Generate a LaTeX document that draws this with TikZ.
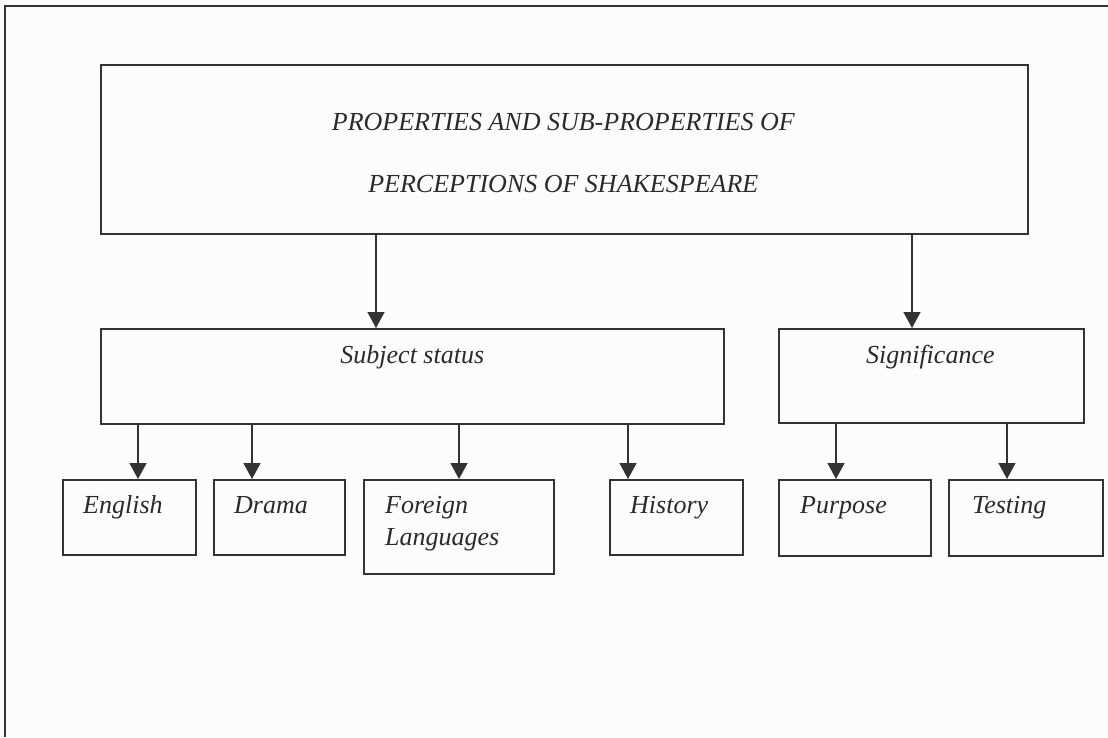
\documentclass[tikz,border=0pt]{standalone}
\usepackage{fontspec}
\setmainfont{Liberation Serif}
\usetikzlibrary{arrows.meta}
\definecolor{lc}{HTML}{333333}
\definecolor{tc}{HTML}{2A2A2A}
\definecolor{bg}{HTML}{FCFCFC}
\tikzset{
  box/.style={draw=lc, line width=1.6pt, rectangle, inner sep=0pt, anchor=north west},
  txt/.style={text=tc, inner sep=0pt, font=\fontsize{26}{31}\selectfont\itshape},
  arr/.style={draw=lc, line width=1.6pt, -{Triangle[width=17pt,length=16pt]}, shorten >=0pt},
  frame/.style={draw=lc, line width=1.6pt}
}
\begin{document}
\begin{tikzpicture}[x=1pt,y=-1pt]
\fill[bg] (0,0) rectangle (1108,737);
\useasboundingbox (0,0) rectangle (1108,737);
\draw[frame] (5,737) -- (5,6) -- (1108,6);

% boxes
\node[box, minimum width=927pt, minimum height=169pt] (top) at (100,64) {};
\node[box, minimum width=623pt, minimum height=95pt] (subj) at (100,328) {};
\node[box, minimum width=305pt, minimum height=94pt] (sig) at (778,328) {};
\node[box, minimum width=133pt, minimum height=75pt] (eng) at (62,479) {};
\node[box, minimum width=131pt, minimum height=75pt] (dra) at (213,479) {};
\node[box, minimum width=190pt, minimum height=94pt] (for) at (363,479) {};
\node[box, minimum width=133pt, minimum height=75pt] (his) at (609,479) {};
\node[box, minimum width=152pt, minimum height=76pt] (pur) at (778,479) {};
\node[box, minimum width=154pt, minimum height=76pt] (tes) at (948,479) {};

% texts
\node[txt, anchor=base] (t1) at ([xshift=-1pt,yshift=-66pt]top.north) {PROPERTIES AND SUB-PROPERTIES OF};
\node[txt, anchor=base] (t2) at ([xshift=-1pt,yshift=-128pt]top.north) {PERCEPTIONS OF SHAKESPEARE};
\node[txt, anchor=base] (ts) at ([yshift=-35pt]subj.north) {Subject status};
\node[txt, anchor=base] (tg) at ([xshift=-1pt,yshift=-35pt]sig.north) {Significance};
\node[txt, anchor=base west] (te) at ([xshift=21pt,yshift=-34pt]eng.north west) {English};
\node[txt, anchor=base west] (td) at ([xshift=21pt,yshift=-34pt]dra.north west) {Drama};
\node[txt, anchor=base west] (tf1) at ([xshift=22pt,yshift=-34pt]for.north west) {Foreign};
\node[txt, anchor=base west] (tf2) at ([xshift=22pt,yshift=-66pt]for.north west) {Languages};
\node[txt, anchor=base west] (th) at ([xshift=21pt,yshift=-34pt]his.north west) {History};
\node[txt, anchor=base west] (tp) at ([xshift=22pt,yshift=-34pt]pur.north west) {Purpose};
\node[txt, anchor=base west] (tt) at ([xshift=24pt,yshift=-34pt]tes.north west) {Testing};

% arrows
\draw[arr] ([xshift=276pt]top.south west) -- ([xshift=276pt]subj.north west);
\draw[arr] ([xshift=812pt]top.south west) -- ([xshift=134pt]sig.north west);
\draw[arr] ([xshift=38pt]subj.south west) -- ([xshift=76pt]eng.north west);
\draw[arr] ([xshift=152pt]subj.south west) -- ([xshift=39pt]dra.north west);
\draw[arr] ([xshift=359pt]subj.south west) -- ([xshift=96pt]for.north west);
\draw[arr] ([xshift=528pt]subj.south west) -- ([xshift=19pt]his.north west);
\draw[arr] ([xshift=58pt]sig.south west) -- ([xshift=58pt]pur.north west);
\draw[arr] ([xshift=229pt]sig.south west) -- ([xshift=59pt]tes.north west);
\end{tikzpicture}
\end{document}
